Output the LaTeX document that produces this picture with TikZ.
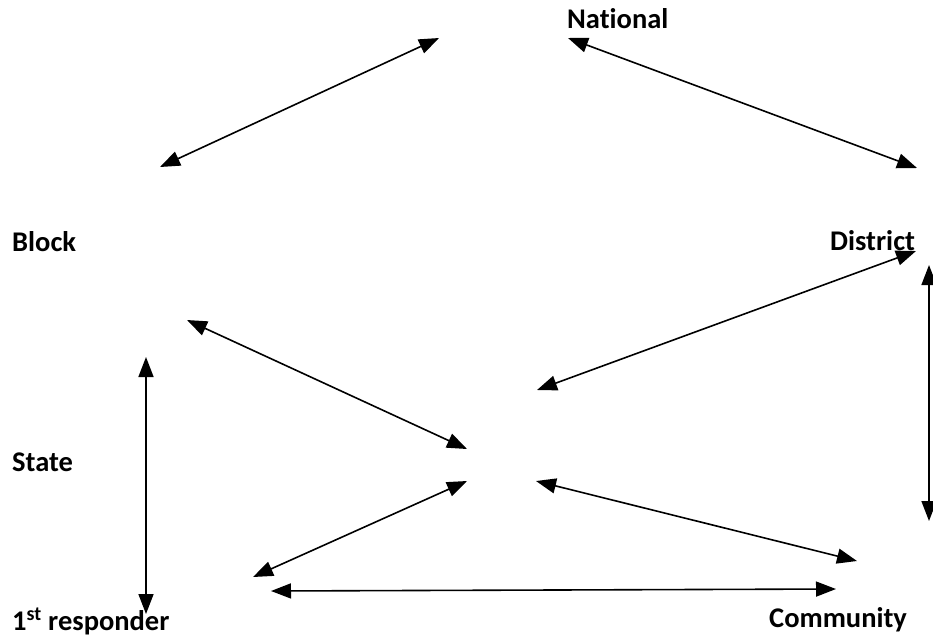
\documentclass[tikz,border=0pt]{standalone}
\usepackage{fontspec}
\setmainfont[Ligatures=NoCommon]{Carlito}
\usetikzlibrary{arrows.meta, positioning}

\begin{document}
\begin{tikzpicture}[x=1pt, y=-1pt, >={Triangle[length=20pt, width=15pt]},
    lvl/.style={anchor=base west, inner sep=0pt, font=\fontsize{28.5}{32}\selectfont\bfseries},
    link/.style={<->, line width=1.6pt}]
      \useasboundingbox (0,0) rectangle (933,638);
      % levels
      \node[lvl] (nat) at (567,28) {National};
      \node[lvl] (blk) at (12,251) {Block};
      \node[lvl] (dst) at (830,250) {District};
      \node[lvl] (ste) at (12,471) {State};
      \node[lvl] (frs) at (12,630) {1\textsuperscript{st} responder};
      \node[lvl] (com) at (769,627) {Community};
      % arrow ends
      \coordinate (a1) at (160,167);  \coordinate (a2) at (439,38);
      \coordinate (b1) at (568,38);   \coordinate (b2) at (917,168);
      \coordinate (c1) at (187,320);  \coordinate (c2) at (467,449);
      \coordinate (d1) at (537,390);  \coordinate (d2) at (916,251);
      \coordinate (e1) at (929,265);  \coordinate (e2) at (929,521);
      \coordinate (f1) at (146,357);  \coordinate (f2) at (146,614);
      \coordinate (g1) at (253,577);  \coordinate (g2) at (467,481);
      \coordinate (h1) at (536,481);  \coordinate (h2) at (857,561);
      \coordinate (i1) at (271,591);  \coordinate (i2) at (836,589);
      \draw[link] (a1) -- (a2);
      \draw[link] (b1) -- (b2);
      \draw[link] (c1) -- (c2);
      \draw[link] (d1) -- (d2);
      \draw[link] (e1) -- (e2);
      \draw[link] (f1) -- (f2);
      \draw[link] (g1) -- (g2);
      \draw[link] (h1) -- (h2);
      \draw[link] (i1) -- (i2);
\end{tikzpicture}
\end{document}
